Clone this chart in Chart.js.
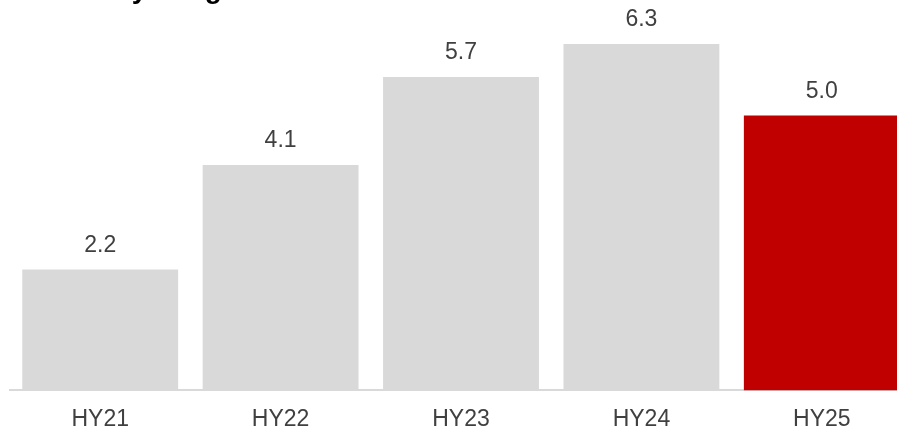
<!DOCTYPE html>
<html>
<head>
<meta charset="utf-8">
<script src="https://cdn.jsdelivr.net/npm/chart.js@4"></script>
<style>
  html, body { margin:0; padding:0; background:#fff; overflow:hidden; }
  #wrap { position:absolute; left:0; top:0; width:912px; height:432px; }
</style>
</head>
<body>
<div id="wrap"><canvas id="chart"></canvas></div>
<script>
const categories = ["HY21", "HY22", "HY23", "HY24", "HY25"];
const values = [2.2, 4.1, 5.7, 6.3, 5.0];
const barColors = ["#d9d9d9", "#d9d9d9", "#d9d9d9", "#d9d9d9", "#c00000"];
const titleText = "Monthly net growth";

/* value labels above each bar */
const valueLabels = {
    id: "valueLabels",
    afterDatasetsDraw(chart){
        const ctx = chart.ctx;
        const meta = chart.getDatasetMeta(0);
        ctx.save();
        ctx.font = "23px 'Liberation Sans', Arial, sans-serif";
        ctx.fillStyle = "#404040";
        ctx.textAlign = "center";
        ctx.textBaseline = "middle";
        meta.data.forEach((bar, i) => {
            ctx.fillText(values[i].toFixed(1), bar.x, bar.y - 24);
        });
        ctx.restore();
    }
};

/* title that sits mostly above the visible area */
const clippedTitle = {
    id: "clippedTitle",
    afterDraw(chart){
        const ctx = chart.ctx;
        ctx.save();
        ctx.font = "bold 28px 'Liberation Sans', Arial, sans-serif";
        ctx.fillStyle = "#000";
        ctx.textBaseline = "alphabetic";
        ctx.fillText(titleText, 40, -2);
        ctx.restore();
    }
};

new Chart(document.getElementById("chart"), {
    type: "bar",
    data: {
        labels: categories,
        datasets: [{
            data: values,
            backgroundColor: barColors,
            barPercentage: 0.864,
            categoryPercentage: 1.0
        }]
    },
    options: {
        responsive: true,
        maintainAspectRatio: false,
        animation: false,
        layout: { padding: { left: 10, right: 0, top: 0, bottom: -16 } },
        plugins: {
            legend: { display: false },
            tooltip: { enabled: false }
        },
        scales: {
            x: {
                grid: { display: false, drawTicks: false },
                border: { display: true, color: "#d9d9d9", width: 2 },
                ticks: {
                    color: "#404040",
                    padding: 15,
                    font: { family: "'Liberation Sans', Arial, sans-serif", size: 23 }
                }
            },
            y: {
                display: false,
                min: 0,
                max: 7.1
            }
        }
    },
    plugins: [valueLabels, clippedTitle]
});
</script>
</body>
</html>
